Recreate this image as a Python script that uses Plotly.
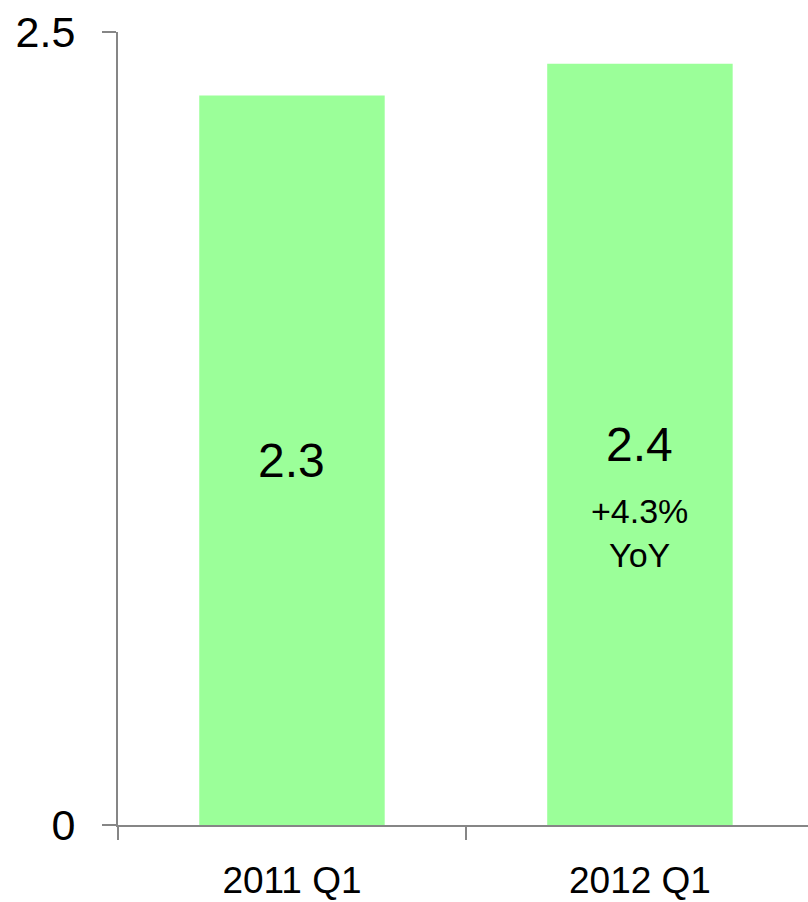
import plotly.graph_objects as go

# Quarterly values
quarters = ["2011 Q1", "2012 Q1"]
values = [2.3, 2.4]
y_ticks = [0, 2.5]
y_tick_labels = ["0", "2.5"]

BAR_COLOR = "#9bff99"
AXIS_COLOR = "#868686"
FONT = "Liberation Sans, Arial, sans-serif"

yoy = (values[1] / values[0] - 1) * 100

fig = go.Figure(
    go.Bar(
        x=quarters,
        y=values,
        width=0.533,
        marker=dict(color=BAR_COLOR, line=dict(width=0)),
        hoverinfo="skip",
    )
)

# value labels centred in each bar
for q, v in zip(quarters, values):
    fig.add_annotation(
        x=q, y=v / 2, text=f"{v:.1f}", showarrow=False,
        xanchor="center", yanchor="middle",
        font=dict(family=FONT, size=48, color="black"),
    )

# year-over-year growth under the latest value
fig.add_annotation(
    x=quarters[1], y=values[1] / 2, yshift=-89,
    text=f"+{yoy:.1f}%<br>YoY", showarrow=False,
    xanchor="center", yanchor="middle",
    font=dict(family=FONT, size=34, color="black"),
)

fig.update_layout(
    width=808,
    height=902,
    margin=dict(l=118, r=0, t=32, b=77),
    paper_bgcolor="white",
    plot_bgcolor="white",
    showlegend=False,
    font=dict(family=FONT, color="black"),
    xaxis=dict(
        type="category",
        range=[-0.5, 1.483],
        tickson="boundaries",
        ticks="outside",
        ticklen=13,
        tickwidth=2,
        tickcolor=AXIS_COLOR,
        showline=True,
        linecolor=AXIS_COLOR,
        linewidth=2,
        showgrid=False,
        zeroline=False,
        automargin=False,
        ticklabelstandoff=22,
        tickfont=dict(family=FONT, size=37, color="black"),
    ),
    yaxis=dict(
        range=[0, 2.5],
        tickvals=y_ticks,
        ticktext=y_tick_labels,
        ticks="outside",
        ticklen=14,
        tickwidth=2,
        tickcolor=AXIS_COLOR,
        showline=True,
        linecolor=AXIS_COLOR,
        linewidth=2,
        showgrid=False,
        zeroline=False,
        automargin=False,
        ticklabelstandoff=18,
        tickfont=dict(family=FONT, size=43, color="black"),
    ),
)

fig.write_html("out.html")
